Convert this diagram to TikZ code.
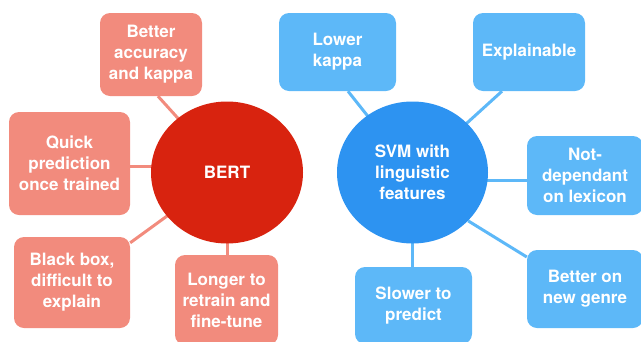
\documentclass[tikz,border=0pt]{standalone}
\usepackage{fontspec}
\setmainfont{TeX Gyre Heros}
\usetikzlibrary{shapes.geometric,calc,backgrounds}
\definecolor{bertred}{HTML}{D8230F}
\definecolor{salmon}{HTML}{F28B7D}
\definecolor{svmblue}{HTML}{2D93F1}
\definecolor{skyblue}{HTML}{5DB8F8}
\tikzset{
  txt/.style={text=white, font=\fontsize{17}{21}\selectfont\bfseries, align=center, inner sep=0pt},
  redbox/.style={txt, fill=salmon, rounded corners=10pt},
  bluebox/.style={txt, fill=skyblue, rounded corners=10pt},
  hub/.style={txt, ellipse},
  redline/.style={draw=salmon, line width=3pt},
  blueline/.style={draw=skyblue, line width=3pt},
}
\begin{document}
\begin{tikzpicture}[x=1pt,y=-1pt]
\useasboundingbox (0,0) rectangle (641,341);
% hubs
\node[hub, fill=bertred, minimum width=152pt, minimum height=142pt] (bert) at (227,172.5) {BERT};
\node[hub, fill=svmblue, minimum width=151pt, minimum height=142pt] (svm) at (412.5,172.5) {SVM with\\linguistic\\features};
% BERT boxes
\node[redbox, minimum width=102pt, minimum height=83pt] (b1) at (151,54.5) {Better\\accuracy\\and kappa};
\node[redbox, minimum width=121pt, minimum height=103pt] (b2) at (69.5,163.5) {Quick\\prediction\\once trained};
\node[redbox, minimum width=116pt, minimum height=91pt] (b3) at (72,282.5) {Black box,\\difficult to\\explain};
\node[redbox, minimum width=103pt, minimum height=90pt] (b4) at (226.5,300) {Longer to\\retrain and\\fine-tune};
% SVM boxes
\node[bluebox, minimum width=117pt, minimum height=78pt] (s1) at (337.5,52) {Lower\\kappa};
\node[bluebox, minimum width=112pt, minimum height=78pt] (s2) at (529,52) {Explainable};
\node[bluebox, minimum width=116pt, minimum height=79pt] (s3) at (585,175.5) {Not-\\dependant\\on lexicon};
\node[bluebox, minimum width=116pt, minimum height=78pt] (s4) at (585,289) {Better on\\new genre};
\node[bluebox, minimum width=117pt, minimum height=77pt] (s5) at (413.5,305.5) {Slower to\\predict};
% connectors
\coordinate (q2) at ($(b2.east)+(0,2.5)$);
\coordinate (q3) at ($(s3.west)+(0,4.5)$);
\begin{scope}[on background layer]
\draw[redline] ($(b1.south)+(7,0)$) -- (bert.center);
\draw[redline] (q2) -- (q2 -| bert.center);
\draw[redline] ($(b3.north east)+(0,6)$) -- (bert.center);
\draw[redline] (b4.north -| bert.center) -- (bert.center);
\draw[blueline] ($(s1.south)+(10.5,0)$) -- (svm.center);
\draw[blueline] ($(s2.south)+(-27,0)$) -- (svm.center);
\draw[blueline] (q3) -- (q3 -| svm.center);
\draw[blueline] ($(s4.west)+(0,-32)$) -- (svm.-41);
\draw[blueline] (s5.north -| svm.center) -- (svm.center);
\end{scope}
\end{tikzpicture}
\end{document}
